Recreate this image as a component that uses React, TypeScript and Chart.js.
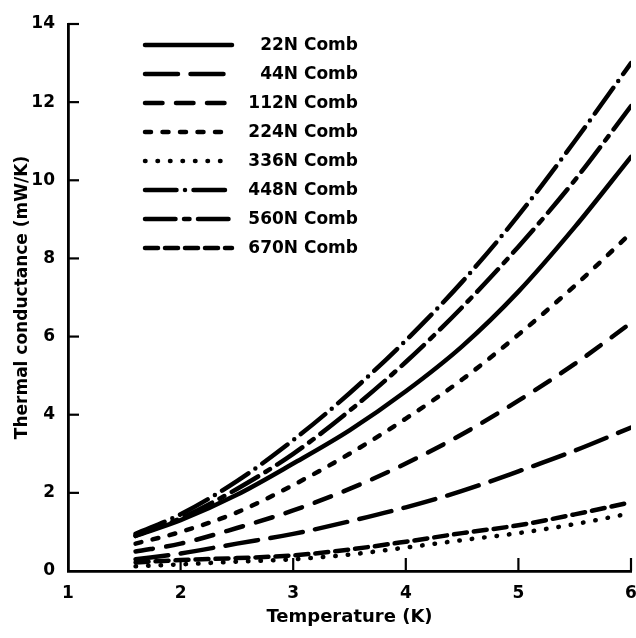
import React, { useEffect, useRef } from "react";
import { Chart, registerables } from "chart.js";

Chart.register(...registerables);

const temps = [1.6, 2, 2.5, 3, 3.5, 4, 4.5, 5, 5.5, 6];
const k22 = [0.9, 1.3, 1.95, 2.75, 3.6, 4.6, 5.75, 7.15, 8.8, 10.6];
const k44 = [0.3, 0.45, 0.7, 0.95, 1.27, 1.63, 2.05, 2.55, 3.08, 3.67];
const k112 = [0.5, 0.7, 1.1, 1.55, 2.1, 2.75, 3.5, 4.36, 5.3, 6.35];
const k224 = [0.7, 1.0, 1.5, 2.2, 3.0, 3.9, 4.9, 6.05, 7.3, 8.65];
const k336 = [0.12, 0.17, 0.24, 0.3, 0.42, 0.6, 0.79, 0.97, 1.2, 1.48];
const k448 = [0.95, 1.45, 2.3, 3.35, 4.55, 5.9, 7.4, 9.1, 11.0, 13.0];
const k560 = [0.9, 1.35, 2.1, 3.0, 4.1, 5.35, 6.75, 8.3, 10.0, 11.9];
const k670 = [0.22, 0.28, 0.33, 0.4, 0.55, 0.75, 0.97, 1.17, 1.45, 1.76];

const seriesLabels = [
  "22N Comb",
  "44N Comb",
  "112N Comb",
  "224N Comb",
  "336N Comb",
  "448N Comb",
  "560N Comb",
  "670N Comb",
];
const seriesValues = [k22, k44, k112, k224, k336, k448, k560, k670];
// dash patterns (round caps add line width to each dash)
const seriesDashes: number[][] = [
  [],
  [33, 12.5],
  [17.5, 13.5],
  [6, 11.5],
  [0.5, 12],
  [31.5, 8.5, 0, 8.5],
  [30.5, 8.5, 5.5, 8.5],
  [13, 7],
];

const xTicks = [1, 2, 3, 4, 5, 6];
const yTicks = [0, 2, 4, 6, 8, 10, 12, 14];

const FONT = "'DejaVu Sans', sans-serif";
const LW = 4.5;

const decorPlugin = {
  id: "decor",
  afterDatasetsDraw(chart: any) {
    const { ctx, chartArea, scales } = chart;
    const xs = scales.x;
    const ys = scales.y;
    ctx.save();
    ctx.strokeStyle = "#000";
    ctx.lineWidth = 2.2;
    ctx.setLineDash([]);
    ctx.lineCap = "butt";
    yTicks.forEach((v) => {
      if (v === 0) return;
      const py = ys.getPixelForValue(v);
      ctx.beginPath();
      ctx.moveTo(chartArea.left, py);
      ctx.lineTo(chartArea.left + 11, py);
      ctx.stroke();
    });
    xTicks.forEach((v) => {
      if (v === 1) return;
      const px = xs.getPixelForValue(v);
      ctx.beginPath();
      ctx.moveTo(px, chartArea.bottom);
      ctx.lineTo(px, chartArea.bottom - 13);
      ctx.stroke();
    });
    const x0 = chartArea.left + 77;
    const x1 = chartArea.left + 164;
    const tx = chartArea.left + 290;
    ctx.font = `bold 17px ${FONT}`;
    ctx.textAlign = "right";
    ctx.textBaseline = "middle";
    ctx.fillStyle = "#000";
    seriesLabels.forEach((lab, i) => {
      const y = chartArea.top + 21 + i * 29;
      ctx.beginPath();
      ctx.lineWidth = LW;
      ctx.lineCap = "round";
      ctx.setLineDash(seriesDashes[i]);
      ctx.moveTo(x0, y);
      ctx.lineTo(x1, y);
      ctx.stroke();
      ctx.setLineDash([]);
      ctx.fillText(lab, tx, y + 1);
    });
    ctx.restore();
  },
};

export default function App() {
  const ref = useRef<HTMLCanvasElement>(null);
  useEffect(() => {
    if (!ref.current) return;
    const datasets = seriesLabels.map((lab, i) => ({
      label: lab,
      data: temps.map((t, j) => ({ x: t, y: seriesValues[i][j] })),
      borderColor: "#000",
      backgroundColor: "#000",
      borderWidth: LW,
      borderDash: seriesDashes[i],
      borderCapStyle: "round" as const,
      pointRadius: 0,
      tension: 0.4,
      cubicInterpolationMode: "monotone" as const,
      fill: false,
    }));
    const chart = new Chart(ref.current, {
      type: "line",
      data: { datasets },
      plugins: [decorPlugin],
      options: {
        responsive: false,
        animation: false,
        layout: { padding: { top: 24, right: 5, left: 0, bottom: 0 } },
        plugins: { legend: { display: false }, tooltip: { enabled: false } },
        scales: {
          x: {
            type: "linear",
            min: 1,
            max: 6,
            afterFit: (s: any) => {
              s.height = 67;
              s.paddingRight = 0;
              s.paddingLeft = 0;
            },
            afterBuildTicks: (s: any) => {
              s.ticks = xTicks.map((v) => ({ value: v }));
            },
            grid: { display: false, drawTicks: false },
            border: { display: true, color: "#000", width: 2.8 },
            ticks: {
              color: "#000",
              padding: 12,
              maxRotation: 0,
              font: { family: FONT, size: 17, weight: "bold" },
            },
            title: {
              display: true,
              text: "Temperature (K)",
              color: "#000",
              padding: { top: 0, bottom: 10 },
              font: { family: FONT, size: 18, weight: "bold" },
            },
          },
          y: {
            type: "linear",
            min: 0,
            max: 14,
            afterFit: (s: any) => {
              s.width = 68;
              s.paddingTop = 0;
              s.paddingBottom = 0;
            },
            afterBuildTicks: (s: any) => {
              s.ticks = yTicks.map((v) => ({ value: v }));
            },
            grid: { display: false, drawTicks: false },
            border: { display: true, color: "#000", width: 2.8 },
            ticks: {
              color: "#000",
              padding: 13,
              font: { family: FONT, size: 17, weight: "bold" },
            },
            title: {
              display: true,
              text: "Thermal conductance (mW/K)",
              color: "#000",
              padding: { top: 12, bottom: 0 },
              font: { family: FONT, size: 17, weight: "bold" },
            },
          },
        },
      },
    });
    return () => chart.destroy();
  }, []);
  return (
    <div style={{ position: "fixed", left: 0, top: 0, width: 636, height: 638, background: "#fff" }}>
      <canvas ref={ref} width={636} height={638} />
    </div>
  );
}
